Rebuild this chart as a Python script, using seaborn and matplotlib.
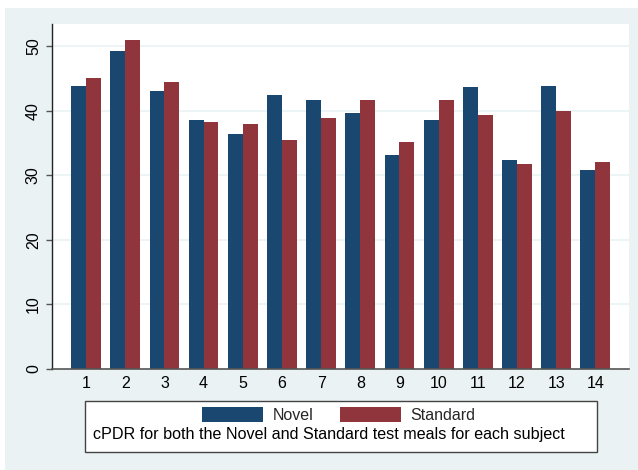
import pandas as pd
import matplotlib.pyplot as plt
import seaborn as sns
from matplotlib.patches import Rectangle

# Values (cPDR per subject)
subjects = [str(i) for i in range(1, 15)]
novel = [43.8, 49.2, 43.0, 38.5, 36.3, 42.4, 41.6, 39.7, 33.1, 38.5, 43.6, 32.3, 43.8, 30.8]
standard = [45.0, 50.9, 44.5, 38.2, 37.9, 35.4, 38.8, 41.7, 35.1, 41.6, 39.3, 31.7, 39.9, 32.0]
y_ticks = [0, 10, 20, 30, 40, 50]

df = pd.DataFrame({
    'subject': subjects * 2,
    'cpdr': novel + standard,
    'meal': ['Novel'] * len(subjects) + ['Standard'] * len(subjects),
})

sns.set_theme(style="white")
plt.rcParams['font.family'] = ['Liberation Sans', 'DejaVu Sans']

bg = '#EAF2F3'
fig = plt.figure(figsize=(6.38, 4.70), dpi=100)
fig.patch.set_facecolor('white')
# Stata-style graph region (slight white margin top/left)
fig.patches.append(Rectangle((5 / 638, 0), 1, 1 - 8 / 470, transform=fig.transFigure,
                             facecolor=bg, edgecolor='none', zorder=-10))

ax = fig.add_axes([52 / 638, 1 - 369 / 470, 577 / 638, 345 / 470])
ax.set_facecolor('white')

sns.barplot(data=df, x='subject', y='cpdr', hue='meal', order=subjects,
            palette={'Novel': '#1A476F', 'Standard': '#90353B'},
            width=0.76, saturation=1, linewidth=0, ax=ax, legend=True)

ax.set_xlim(-0.87, 13.86)
ax.set_ylim(0, 53.4)
ax.set_yticks(y_ticks)
ax.set_yticklabels([str(t) for t in y_ticks], rotation=90, va='center')
ax.set_xlabel('')
ax.set_ylabel('')

for t in y_ticks[1:]:
    ax.axhline(t, color=bg, linewidth=1.2, zorder=0)
ax.set_axisbelow(True)

for side in ['top', 'right']:
    ax.spines[side].set_visible(False)
ax.spines['left'].set_color('#222222')
ax.spines['bottom'].set_color('#555555')
ax.spines['left'].set_linewidth(1.0)
ax.spines['bottom'].set_linewidth(1.2)

ax.tick_params(axis='y', left=True, length=4, width=1, color='#555555',
               pad=4, labelsize=11.5, labelcolor='black')
ax.tick_params(axis='x', bottom=False, length=0, pad=5, labelsize=11.5, labelcolor='black')

handles, labels = ax.get_legend_handles_labels()
ax.get_legend().remove()

# legend box
fig.patches.append(Rectangle((85 / 638, 1 - 452 / 470), 512 / 638, 51 / 470,
                             transform=fig.transFigure, facecolor='white',
                             edgecolor='#444444', linewidth=1.0, zorder=1))
fig.legend(handles, labels, loc='center', bbox_to_anchor=(339 / 638, 1 - 415 / 470),
           ncol=2, frameon=False, fontsize=11.5, handlelength=3.8, handleheight=1.05,
           handletextpad=0.6, columnspacing=1.7, borderpad=0)
fig.text(329 / 638, 1 - 434.5 / 470,
         'cPDR for both the Novel and Standard test meals for each subject',
         ha='center', va='center', fontsize=11.6, color='black', zorder=3)

fig.savefig('out.png', dpi=100)
